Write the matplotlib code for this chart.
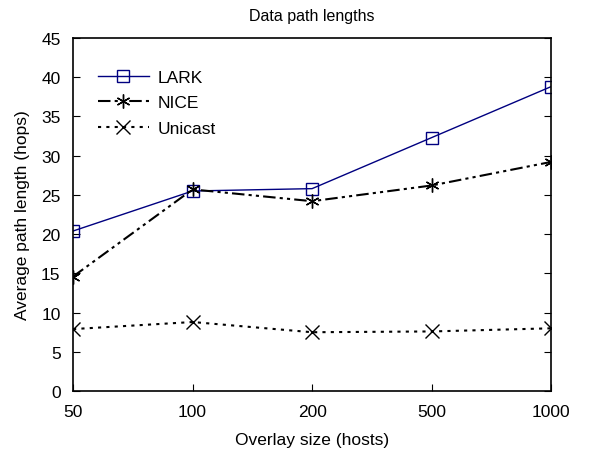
import matplotlib
matplotlib.use('Agg')
import matplotlib.pyplot as plt

plt.rcParams['font.family'] = ['Liberation Sans', 'DejaVu Sans']

sizes = ['50', '100', '200', '500', '1000']
lark = [20.4, 25.5, 25.8, 32.3, 38.8]
nice = [14.6, 25.7, 24.2, 26.2, 29.2]
unicast = [7.9, 8.8, 7.5, 7.6, 8.0]

fig = plt.figure(figsize=(5.99, 4.64), dpi=100)
ax = fig.add_axes([0.122, 0.155, 0.798, 0.761])

x = range(len(sizes))
ax.plot(x, lark, color='#000080', linewidth=1, marker='s', markersize=8,
        markerfacecolor='none', markeredgecolor='#000080', label='LARK')
ax.plot(x, nice, color='black', linewidth=1.5, dashes=[6, 2, 1.5, 2, 1.5, 2],
        marker=(6, 2, 0), markersize=10, markeredgewidth=1, label='NICE')
ax.plot(x, unicast, color='black', linewidth=1.5, linestyle=(0, (1.5, 2.5)),
        marker='x', markersize=10, markeredgewidth=1, label='Unicast')

ax.set_xlim(0, len(sizes) - 1)
ax.set_ylim(0, 45)
ax.set_xticks(list(x))
ax.set_xticklabels(sizes)
ax.set_yticks(range(0, 50, 5))
ax.tick_params(direction='in', labelsize=12.5, length=5, right=True)
ax.tick_params(axis='y', pad=9)
ax.tick_params(axis='x', pad=9)
for s in ax.spines.values():
    s.set_linewidth(1.2)

ax.set_xlabel('Overlay size (hosts)', fontsize=12.5, labelpad=10)
ax.set_ylabel('Average path length (hops)', fontsize=12.5, labelpad=8)
ax.set_title('Data path lengths', fontsize=11.5, pad=13)

ax.legend(loc='upper left', bbox_to_anchor=(0.02, 0.955), frameon=False,
          fontsize=12.5, handlelength=2.9, handletextpad=0.5, labelspacing=0.6)

fig.savefig('out.png', dpi=100)
